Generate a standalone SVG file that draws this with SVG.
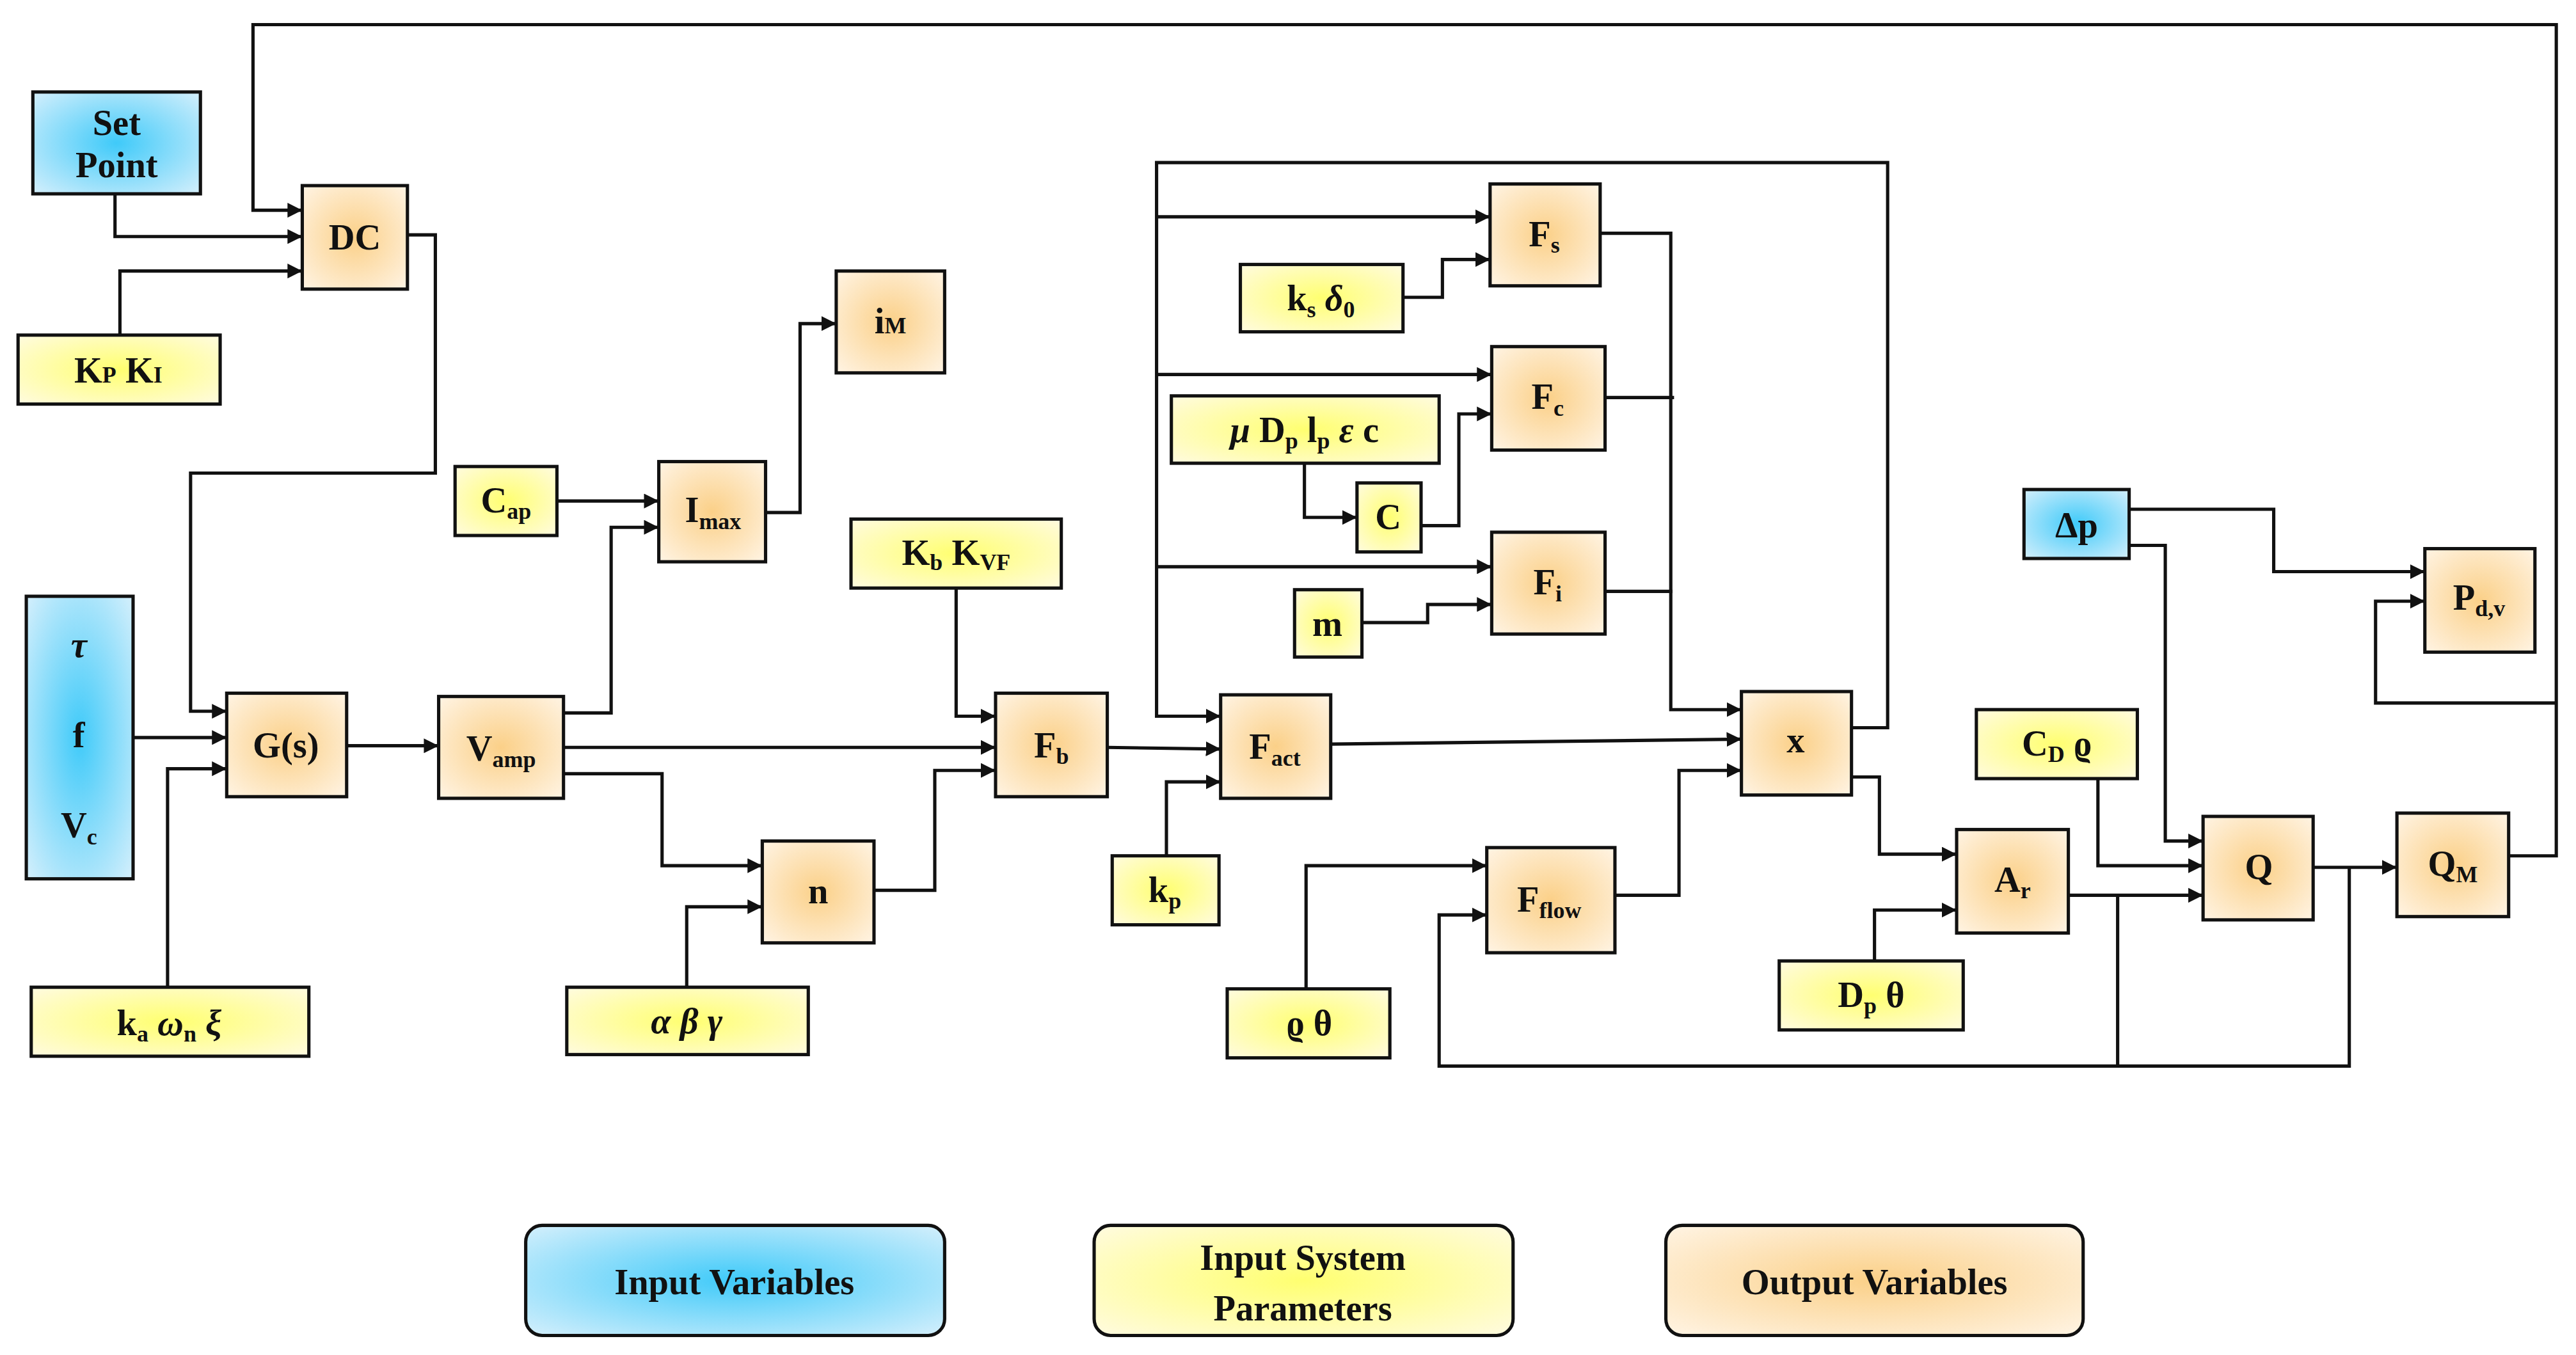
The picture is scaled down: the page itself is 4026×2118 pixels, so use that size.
<svg xmlns="http://www.w3.org/2000/svg" width="4026" height="2118" viewBox="0 0 4026 2118">
<defs>
<radialGradient id="gb" cx="50%" cy="50%" r="70%"><stop offset="0" stop-color="#3fcaf9"/><stop offset="1" stop-color="#d4effc"/></radialGradient>
<radialGradient id="gy" cx="50%" cy="50%" r="70%"><stop offset="0" stop-color="#ffff70"/><stop offset="1" stop-color="#fffbe0"/></radialGradient>
<radialGradient id="go" cx="50%" cy="50%" r="70%"><stop offset="0" stop-color="#fbd088"/><stop offset="1" stop-color="#fff4e4"/></radialGradient>
<marker id="a" viewBox="0 0 10 10" refX="10" refY="5" markerWidth="4.5" markerHeight="4.5" orient="auto"><path d="M0,0L10,5L0,10z" fill="#111"/></marker>
</defs>
<style>
.b{fill:url(#gb);stroke:#111;stroke-width:2}
.y{fill:url(#gy);stroke:#111;stroke-width:2}
.o{fill:url(#go);stroke:#111;stroke-width:2}
text{font-family:"Liberation Serif","DejaVu Serif",serif;font-size:22px;font-weight:bold;fill:#111;text-anchor:middle}
.s{font-size:14px}
.c path{fill:none;stroke:#111;stroke-width:2}
.c .r{marker-end:url(#a)}
</style>
<rect width="4026" height="2118" fill="#fff"/>
<g transform="scale(2.5676)">
<g class="c">
<path class="r" d="M1527,521H1556V15H154V128H184"/>
<path class="r" d="M70,118V144H184"/>
<path class="r" d="M73,204V165H184"/>
<path class="r" d="M248,143H265V288H116V433H138"/>
<path class="r" d="M81,449H138"/>
<path class="r" d="M102,601V468H138"/>
<path class="r" d="M211,454H267"/>
<path class="r" d="M343,434H372V321H401"/>
<path class="r" d="M339,305H401"/>
<path class="r" d="M466,312H487V197H509"/>
<path class="r" d="M343,455H606"/>
<path class="r" d="M343,471H403V527H464"/>
<path class="r" d="M418,601V552H464"/>
<path class="r" d="M532,542H569V469H606"/>
<path class="r" d="M582,358V436H606"/>
<path class="r" d="M674,455L743,456"/>
<path class="r" d="M710,521V476H743"/>
<path class="r" d="M1127,443H1149V99H704V436H743"/>
<path class="r" d="M704,132H907"/>
<path class="r" d="M704,228H908"/>
<path class="r" d="M704,345H908"/>
<path class="r" d="M854,181H878V158H907"/>
<path class="r" d="M794,282V315H826"/>
<path class="r" d="M865,320H888V252H908"/>
<path class="r" d="M829,379H869V368H908"/>
<path class="r" d="M974,142H1017V432H1060"/>
<path d="M977,242H1019M977,360H1018"/>
<path class="r" d="M810,453L1060,450"/>
<path class="r" d="M983,545H1022V469H1060"/>
<path class="r" d="M795,602V527H905"/>
<path class="r" d="M1127,473H1144V520H1191"/>
<path class="r" d="M1141,585V554H1191"/>
<path class="r" d="M1259,545H1341"/>
<path class="r" d="M1277,474V527H1341"/>
<path class="r" d="M1296,332H1318V512H1341"/>
<path class="r" d="M1296,310H1384V348H1476"/>
<path class="r" d="M1408,528H1459"/>
<path class="r" d="M1430,528V649H876V557H905"/>
<path d="M1289,545V649"/>
<path class="r" d="M1556,428H1446V366H1476"/>
</g>
<g id="setpoint"><rect class="b" x="20" y="56" width="102" height="62"/><text x="71" y="82">Set</text><text x="71" y="108">Point</text></g>
<g id="dc"><rect class="o" x="184" y="113" width="64" height="63"/><text x="216" y="152">DC</text></g>
<g id="kpki"><rect class="y" x="11" y="204" width="123" height="42"/><text x="72" y="233">K<tspan class="s">P</tspan>    K<tspan class="s">I</tspan></text></g>
<g id="im"><rect class="o" x="509" y="165" width="66" height="62"/><text x="542" y="203">i<tspan class="s">M</tspan></text></g>
<g id="cap"><rect class="y" x="277" y="284" width="62" height="42"/><text x="308" y="312">C<tspan class="s" dy="4">ap</tspan></text></g>
<g id="imax"><rect class="o" x="401" y="281" width="65" height="61"/><text x="434" y="318">I<tspan class="s" dy="4">max</tspan></text></g>
<g id="kbkvf"><rect class="y" x="518" y="316" width="128" height="42"/><text x="582" y="344">K<tspan class="s" dy="3">b</tspan><tspan dy="-3">   K</tspan><tspan class="s" dy="3">VF</tspan></text></g>
<g id="tfv"><rect class="b" x="16" y="363" width="65" height="172"/><text x="48" y="400" font-style="italic">τ</text><text x="48" y="455">f</text><text x="48" y="510">V<tspan class="s" dy="4">c</tspan></text></g>
<g id="gs"><rect class="o" x="138" y="422" width="73" height="63"/><text x="174" y="461">G(s)</text></g>
<g id="vamp"><rect class="o" x="267" y="424" width="76" height="62"/><text x="305" y="463">V<tspan class="s" dy="4">amp</tspan></text></g>
<g id="fb"><rect class="o" x="606" y="422" width="68" height="63"/><text x="640" y="461">F<tspan class="s" dy="4">b</tspan></text></g>
<g id="n"><rect class="o" x="464" y="512" width="68" height="62"/><text x="498" y="550">n</text></g>
<g id="fact"><rect class="o" x="743" y="423" width="67" height="63"/><text x="776" y="462">F<tspan class="s" dy="4">act</tspan></text></g>
<g id="kp"><rect class="y" x="677" y="521" width="65" height="42"/><text x="709" y="549">k<tspan class="s" dy="4">p</tspan></text></g>
<g id="kawx"><rect class="y" x="19" y="601" width="169" height="42"/><text x="103" y="630">k<tspan class="s" dy="4">a</tspan><tspan dy="-4" font-style="italic">   ω</tspan><tspan class="s" dy="4">n</tspan><tspan dy="-4" font-style="italic">   ξ</tspan></text></g>
<g id="abg"><rect class="y" x="345" y="601" width="147" height="41"/><text x="418" y="629" font-style="italic">α   β   γ</text></g>
<g id="fs"><rect class="o" x="907" y="112" width="67" height="62"/><text x="940" y="150">F<tspan class="s" dy="4">s</tspan></text></g>
<g id="ksd"><rect class="y" x="755" y="161" width="99" height="41"/><text x="804" y="189">k<tspan class="s" dy="4">s</tspan><tspan dy="-4" font-style="italic">   δ</tspan><tspan class="s" dy="4">0</tspan></text></g>
<g id="fc"><rect class="o" x="908" y="211" width="69" height="63"/><text x="942" y="249">F<tspan class="s" dy="4">c</tspan></text></g>
<g id="mu"><rect class="y" x="713" y="241" width="163" height="41"/><text x="794" y="269"><tspan font-style="italic">μ</tspan>  D<tspan class="s" dy="4">p</tspan><tspan dy="-4">  l</tspan><tspan class="s" dy="4">p</tspan><tspan dy="-4" font-style="italic">  ε</tspan>  c</text></g>
<g id="cb"><rect class="y" x="826" y="294" width="39" height="42"/><text x="845" y="322">C</text></g>
<g id="fi"><rect class="o" x="908" y="324" width="69" height="62"/><text x="942" y="362">F<tspan class="s" dy="4">i</tspan></text></g>
<g id="m"><rect class="y" x="788" y="359" width="41" height="41"/><text x="808" y="387">m</text></g>
<g id="x"><rect class="o" x="1060" y="421" width="67" height="63"/><text x="1093" y="458">x</text></g>
<g id="fflow"><rect class="o" x="905" y="516" width="78" height="64"/><text x="943" y="555">F<tspan class="s" dy="4">flow</tspan></text></g>
<g id="rt"><rect class="y" x="747" y="602" width="99" height="42"/><text x="797" y="630">ϱ   θ</text></g>
<g id="dp"><rect class="b" x="1232" y="298" width="64" height="42"/><text x="1264" y="327">Δp</text></g>
<g id="pdv"><rect class="o" x="1476" y="334" width="67" height="63"/><text x="1509" y="371">P<tspan class="s" dy="4">d,v</tspan></text></g>
<g id="cdr"><rect class="y" x="1203" y="432" width="98" height="42"/><text x="1252" y="460">C<tspan class="s" dy="4">D</tspan><tspan dy="-4">   ϱ</tspan></text></g>
<g id="q"><rect class="o" x="1341" y="497" width="67" height="63"/><text x="1375" y="535">Q</text></g>
<g id="qm"><rect class="o" x="1459" y="495" width="68" height="63"/><text x="1493" y="533">Q<tspan class="s" dy="4">M</tspan></text></g>
<g id="ar"><rect class="o" x="1191" y="505" width="68" height="63"/><text x="1225" y="543">A<tspan class="s" dy="4">r</tspan></text></g>
<g id="dpt"><rect class="y" x="1083" y="585" width="112" height="42"/><text x="1139" y="613">D<tspan class="s" dy="4">p</tspan><tspan dy="-4">   θ</tspan></text></g>
<g id="leg1"><rect class="b" x="320" y="746" width="255" height="67" rx="10"/><text x="447" y="788">Input Variables</text></g>
<g id="leg2"><rect class="y" x="666" y="746" width="255" height="67" rx="10"/><text x="793" y="773">Input System</text><text x="793" y="804">Parameters</text></g>
<g id="leg3"><rect class="o" x="1014" y="746" width="254" height="67" rx="10"/><text x="1141" y="788">Output Variables</text></g>
</g>
</svg>
